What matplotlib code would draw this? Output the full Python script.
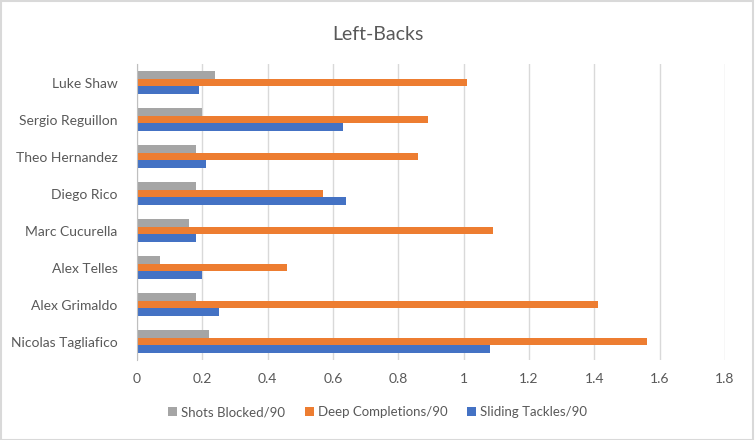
import numpy as np
import matplotlib
matplotlib.use("Agg")
import matplotlib.pyplot as plt
from matplotlib.patches import Rectangle

players = ["Luke Shaw", "Sergio Reguillon", "Theo Hernandez", "Diego Rico",
           "Marc Cucurella", "Alex Telles", "Alex Grimaldo", "Nicolas Tagliafico"]
shots_blocked = [0.24, 0.20, 0.18, 0.18, 0.16, 0.07, 0.18, 0.22]
deep_completions = [1.01, 0.89, 0.86, 0.57, 1.09, 0.46, 1.41, 1.56]
sliding_tackles = [0.19, 0.63, 0.21, 0.64, 0.18, 0.20, 0.25, 1.08]
x_ticks = [0, 0.2, 0.4, 0.6, 0.8, 1, 1.2, 1.4, 1.6, 1.8]
x_labels = ["0", "0.2", "0.4", "0.6", "0.8", "1", "1.2", "1.4", "1.6", "1.8"]

plt.rcParams['font.family'] = ['Lato', 'DejaVu Sans']
txt = '#595959'

fig = plt.figure(figsize=(7.55, 4.4), dpi=100)
ax = fig.add_axes([137 / 755, 1 - 360 / 440, 588 / 755, 296 / 440])

y = np.arange(len(players))[::-1]
h = 0.2
ax.barh(y + h, shots_blocked, height=h, color='#A5A5A5', label='Shots Blocked/90', zorder=3)
ax.barh(y, deep_completions, height=h, color='#ED7D31', label='Deep Completions/90', zorder=3)
ax.barh(y - h, sliding_tackles, height=h, color='#4472C4', label='Sliding Tackles/90', zorder=3)

ax.set_xlim(0, 1.8)
ax.set_ylim(-0.5, len(players) - 0.5)
ax.set_xticks(x_ticks)
ax.set_xticklabels(x_labels)
ax.set_yticks(y)
ax.set_yticklabels(players)
ax.tick_params(length=0, labelsize=10, colors=txt)
ax.tick_params(axis='x', pad=9)
ax.tick_params(axis='y', pad=14)
ax.grid(axis='x', color='#D9D9D9', linewidth=1, zorder=0)
for s in ['top', 'right', 'bottom']:
    ax.spines[s].set_visible(False)
ax.spines['left'].set_color('#BFBFBF')
ax.spines['left'].set_zorder(4)

fig.suptitle("Left-Backs", y=1 - 35 / 440, va='center', fontsize=14, color=txt)
fig.legend(loc='center', bbox_to_anchor=(0.5, 1 - 412 / 440), ncol=3, frameon=False,
           fontsize=9.5, labelcolor=txt, handlelength=0.7, handleheight=0.7,
           handletextpad=0.3, columnspacing=1.5)

fig.patches.append(Rectangle((0.001, 0.001), 0.997, 0.997, transform=fig.transFigure,
                             fill=False, edgecolor='#D9D9D9', linewidth=1.5))

fig.savefig("out.png", dpi=100)
